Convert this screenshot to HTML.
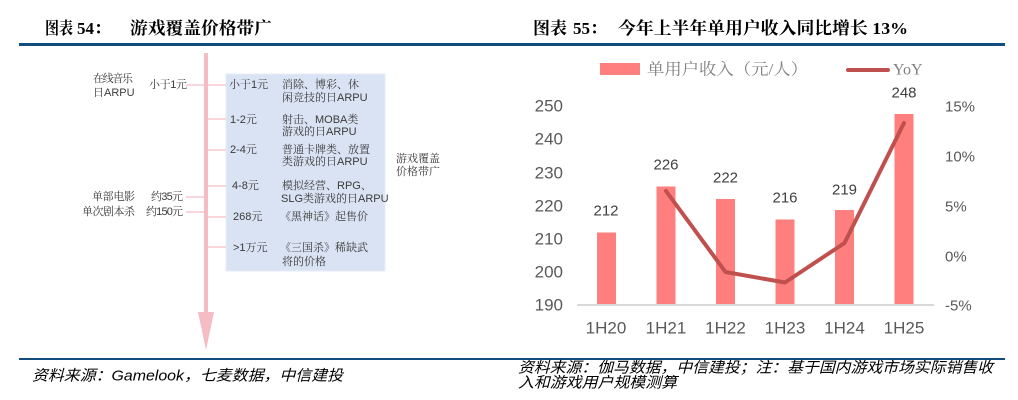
<!DOCTYPE html>
<html><head><meta charset="utf-8"><style>
html,body{margin:0;padding:0;background:#fff;}
svg{display:block;}
.t{font-family:"Liberation Serif","Noto Serif CJK SC",serif;font-weight:bold;font-size:17px;fill:#000;}
.d{font-family:"Liberation Sans","Noto Serif CJK SC",sans-serif;font-size:11px;fill:#3a3a3a;}
.ax{font-family:"Liberation Sans","Noto Sans CJK SC",sans-serif;font-size:17px;fill:#595959;}
.ar{font-family:"Liberation Sans","Noto Sans CJK SC",sans-serif;font-size:15px;fill:#595959;}
.bl{font-family:"Liberation Sans","Noto Sans CJK SC",sans-serif;font-size:15px;fill:#404040;}
.lg{font-family:"Liberation Serif","Noto Serif CJK SC",serif;font-size:16px;fill:#808080;}
.ft{font-family:"Liberation Sans","Noto Sans CJK SC",sans-serif;font-size:15px;font-style:italic;fill:#000;}
</style></head><body>
<svg width="1018" height="400" viewBox="0 0 1018 400" xmlns="http://www.w3.org/2000/svg">
<rect width="1018" height="400" fill="#fff"/>
<!-- titles -->
<text class="t" x="45" y="34" textLength="28" lengthAdjust="spacingAndGlyphs">图表</text>
<text class="t" x="77" y="34">54：</text>
<text class="t" x="130" y="34" textLength="142" lengthAdjust="spacingAndGlyphs">游戏覆盖价格带广</text>
<text class="t" x="533" y="34">图表</text>
<text class="t" x="573" y="34">55：</text>
<text class="t" x="618" y="34" textLength="290" lengthAdjust="spacingAndGlyphs">今年上半年单用户收入同比增长 13%</text>
<!-- rules -->
<rect x="19" y="43" width="986" height="3" fill="#114d7e"/>
<rect x="19" y="358" width="986" height="2" fill="#114d7e"/>

<!-- left diagram -->
<rect x="226" y="74" width="159" height="197" fill="#dae3f3" stroke="#e6ecf7" stroke-width="1"/>
<g stroke="#f7c9cf" stroke-width="1.5">
<line x1="186" y1="85" x2="204" y2="85"/>
<line x1="186" y1="197" x2="204" y2="197"/>
<line x1="186" y1="212" x2="204" y2="212"/>
<line x1="208" y1="85" x2="226" y2="85"/>
<line x1="208" y1="119" x2="226" y2="119"/>
<line x1="208" y1="150" x2="226" y2="150"/>
<line x1="208" y1="186" x2="226" y2="186"/>
<line x1="208" y1="217" x2="226" y2="217"/>
<line x1="208" y1="247" x2="226" y2="247"/>
</g>
<rect x="204" y="53" width="4" height="260" fill="#f5bcc4"/>
<polygon points="198,312 214,312 206,350" fill="#f5bcc4"/>

<g class="d" dominant-baseline="central">
<text x="93" y="79" textLength="40">在线音乐</text>
<text x="93" y="93">日ARPU</text>
<text x="149" y="85" textLength="38">小于1元</text>
<text x="92" y="197" textLength="43">单部电影</text>
<text x="151" y="197" textLength="32">约35元</text>
<text x="82" y="212" textLength="53">单次剧本杀</text>
<text x="146" y="212" textLength="37">约150元</text>

<text x="229" y="85">小于1元</text>
<text x="230" y="120">1-2元</text>
<text x="230" y="150">2-4元</text>
<text x="232" y="186">4-8元</text>
<text x="233" y="217">268元</text>
<text x="233" y="248">&gt;1万元</text>

<text x="282" y="85">消除、博彩、休</text>
<text x="282" y="98">闲竞技的日ARPU</text>
<text x="282" y="120">射击、MOBA类</text>
<text x="282" y="132">游戏的日ARPU</text>
<text x="282" y="150">普通卡牌类、放置</text>
<text x="282" y="162">类游戏的日ARPU</text>
<text x="282" y="186">模拟经营、RPG、</text>
<text x="281" y="199">SLG类游戏的日ARPU</text>
<text x="280" y="217">《黑神话》起售价</text>
<text x="280" y="248">《三国杀》稀缺武</text>
<text x="282" y="262">将的价格</text>

<text x="396" y="159">游戏覆盖</text>
<text x="396" y="172">价格带广</text>
</g>

<!-- right chart -->
<rect x="600" y="63" width="40" height="12" fill="#ff7f7f"/>
<text class="lg" x="647" y="70" dominant-baseline="central" textLength="161" lengthAdjust="spacingAndGlyphs">单用户收入（元/人）</text>
<line x1="848" y1="70" x2="888" y2="70" stroke="#c0504d" stroke-width="4" stroke-linecap="round"/>
<text class="lg" x="893" y="70" dominant-baseline="central">YoY</text>

<g class="ax" text-anchor="end" dominant-baseline="central">
<text x="563" y="106">250</text>
<text x="563" y="139">240</text>
<text x="563" y="173">230</text>
<text x="563" y="206">220</text>
<text x="563" y="239">210</text>
<text x="563" y="272">200</text>
<text x="563" y="305">190</text>
</g>
<g class="ar" dominant-baseline="central">
<text x="945" y="107">15%</text>
<text x="945" y="157">10%</text>
<text x="945" y="207">5%</text>
<text x="945" y="257">0%</text>
<text x="945" y="306">-5%</text>
</g>

<g fill="#ff7f7f">
<rect x="597" y="232.5" width="19" height="72.5"/>
<rect x="656.5" y="186.5" width="19" height="118.5"/>
<rect x="716" y="199" width="19" height="106"/>
<rect x="775.5" y="219.5" width="19" height="85.5"/>
<rect x="835" y="210" width="19" height="95"/>
<rect x="894.5" y="114" width="19" height="191"/>
</g>
<line x1="577" y1="305" x2="934" y2="305" stroke="#d9d9d9" stroke-width="2"/>

<g class="bl" text-anchor="middle" dominant-baseline="central">
<text x="606" y="211">212</text>
<text x="666" y="165">226</text>
<text x="725.5" y="178">222</text>
<text x="785" y="198">216</text>
<text x="844.5" y="190">219</text>
<text x="904" y="93">248</text>
</g>

<polyline points="666,191 725.5,272 785,282.5 844.5,243 904,123" fill="none" stroke="#c0504d" stroke-width="4" stroke-linejoin="round" stroke-linecap="round"/>

<g class="ax" text-anchor="middle" dominant-baseline="central">
<text x="606" y="328">1H20</text>
<text x="666" y="328">1H21</text>
<text x="725.5" y="328">1H22</text>
<text x="785" y="328">1H23</text>
<text x="844.5" y="328">1H24</text>
<text x="904" y="328">1H25</text>
</g>

<text class="ft" x="32" y="376" dominant-baseline="central" textLength="311" lengthAdjust="spacingAndGlyphs">资料来源：Gamelook，七麦数据，中信建投</text>
<text class="ft" x="518" y="368" dominant-baseline="central" textLength="475" lengthAdjust="spacingAndGlyphs">资料来源：伽马数据，中信建投；注：基于国内游戏市场实际销售收</text>
<text class="ft" x="518" y="383" dominant-baseline="central" textLength="159" lengthAdjust="spacingAndGlyphs">入和游戏用户规模测算</text>
</svg>
</body></html>
